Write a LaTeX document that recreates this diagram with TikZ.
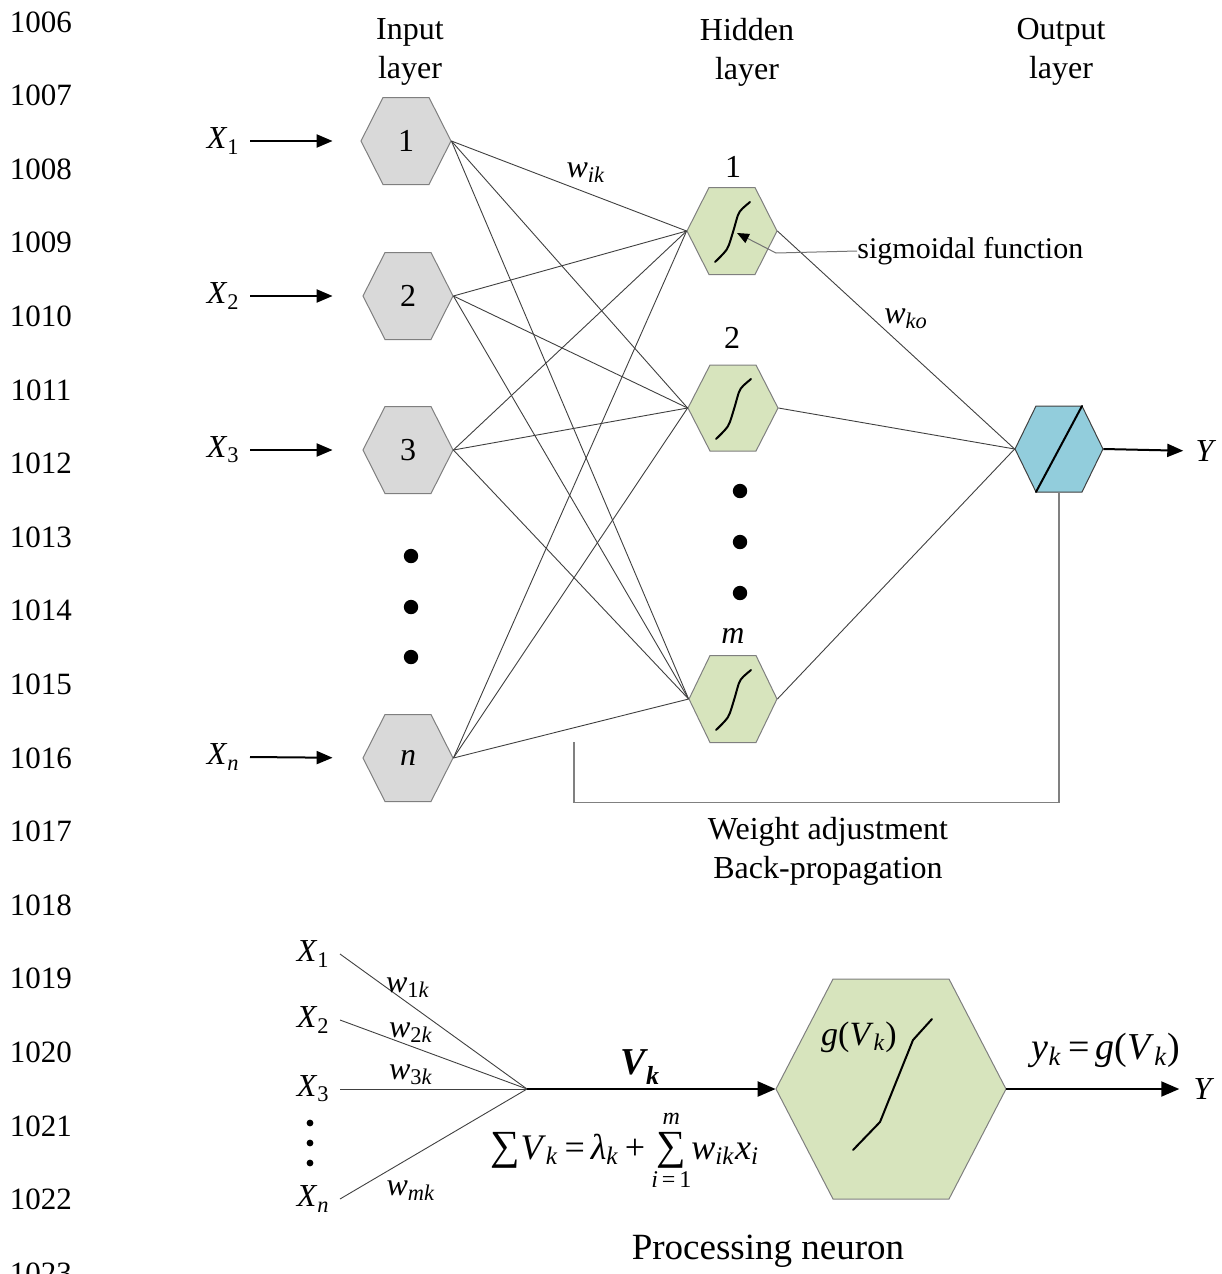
\documentclass[tikz,border=0pt]{standalone}
\usepackage{fontspec}
\setmainfont{Liberation Serif}
\usetikzlibrary{arrows.meta}
\definecolor{ingray}{HTML}{D9D9D9}
\definecolor{hidgreen}{HTML}{D7E4BD}
\definecolor{outblue}{HTML}{92CDDC}
\definecolor{wirecol}{HTML}{404040}
\definecolor{bordergray}{HTML}{7F7F7F}
% name, style, x, y, half-width, half-top-edge, half-height, text
\newcommand\mkhex[8]{%
  \draw[#2] (#3-#5,#4) -- (#3-#6,#4-#7) -- (#3+#6,#4-#7) -- (#3+#5,#4) -- (#3+#6,#4+#7) -- (#3-#6,#4+#7) -- cycle;
  \node[hexanchor, minimum width=#5pt, minimum height=#7pt] (#1) at (#3,#4) {#8};
}
\newcommand\isub[2]{\textit{#1}\textsubscript{#2}}
\tikzset{
  hexanchor/.style={rectangle, inner sep=0pt, font=\fontsize{16}{19}\selectfont},
  inhex/.style={fill=ingray, draw=bordergray, line width=0.5pt},
  hidhex/.style={fill=hidgreen, draw=bordergray, line width=0.5pt},
  outhex/.style={fill=outblue, draw=black!75, line width=0.5pt},
  wire/.style={draw=wirecol, line width=0.45pt},
  inarrow/.style={draw=black, line width=1pt, -{Triangle[length=8pt,width=6.5pt]}},
  bigarrow/.style={draw=black, line width=1.2pt, -{Triangle[length=9pt,width=7.5pt]}},
  sig/.style={draw=black, line width=1pt, line cap=round, line join=round},
  fbline/.style={draw=black!50, line width=0.6pt},
  lbl/.style={inner sep=0pt, font=\fontsize{16}{19.5}\selectfont},
  lnum/.style={inner sep=0pt, font=\fontsize{15.5}{18}\selectfont},
}
\begin{document}
\begin{tikzpicture}[x=0.5pt,y=-0.5pt]
\path[use as bounding box, clip] (0,0) rectangle (1221,1274);

% line numbers
\foreach \i in {0,...,17} {
  \pgfmathtruncatemacro\n{1006+\i}
  \node[lnum] (ln\n) at (41,22+73.6*\i) {\n};
}

% headers
\node[lbl, align=center] (hin)  at (410,52) {Input\\layer};
\node[lbl, align=center] (hhid) at (747,52) {Hidden\\layer};
\node[lbl, align=center] (hout) at (1061,52) {Output\\layer};

% input nodes
\mkhex{in1}{inhex}{406}{141}{45}{23}{43.5}{1}
\mkhex{in2}{inhex}{408}{296}{45}{23}{43.5}{2}
\mkhex{in3}{inhex}{408}{450}{45}{23}{43.5}{3}
\mkhex{inn}{inhex}{408}{758}{45}{23}{43.5}{\textit{n}}

% hidden nodes
\mkhex{h1}{hidhex}{732}{231}{45}{23}{43.5}{}
\mkhex{h2}{hidhex}{733}{408}{45}{23}{43}{}
\mkhex{hm}{hidhex}{733}{699}{44}{23}{43.5}{}

% output node
\mkhex{out}{outhex}{1059}{449}{44}{23}{43}{}

% wires
\foreach \a in {in1,in2,in3,inn}
  \foreach \b in {h1,h2,hm}
    \draw[wire] (\a.east) -- (\b.west);
\foreach \b in {h1,h2,hm}
  \draw[wire] (\b.east) -- (out.west);

% sigmoids
\foreach \h in {h1,h2,hm}
  \draw[sig, shift={(\h)}] plot[smooth, tension=0.5] coordinates {(-17,31) (-5,18) (1,1) (6,-16) (10,-22) (18,-29)};
\draw[sig, shift={(out)}] (-23,43) -- (23,-43);

% dots
\foreach \y in {556,607,657} \fill (411,\y) circle (3.6pt);
\foreach \y in {491,542,593} \fill (740,\y) circle (3.6pt);

% input labels and arrows
\node[lbl, anchor=east, inner xsep=5pt] (X1) at (250,141) {\isub{X}{1}};
\node[lbl, anchor=east, inner xsep=5pt] (X2) at (250,296) {\isub{X}{2}};
\node[lbl, anchor=east, inner xsep=5pt] (X3) at (250,450) {\isub{X}{3}};
\node[lbl, anchor=east, inner xsep=5pt] (Xn) at (250,757) {\isub{X}{\textit{n}}};
\draw[inarrow, shorten >=14pt] (X1.east) -- (in1.west);
\draw[inarrow, shorten >=15pt] (X2.east) -- (in2.west);
\draw[inarrow, shorten >=15pt] (X3.east) -- (in3.west);
\draw[inarrow, shorten >=15pt] (Xn.east) -- (inn.west);

% hidden labels
\node[lbl] (l1) at (733,167) {1};
\node[lbl] (l2) at (732,338) {2};
\node[lbl] (lm) at (733,636) {\textit{m}};

% weights
\node[lbl] (wik) at (586,173) {\isub{w}{\textit{ik}}};
\node[lbl] (wko) at (906,319) {\isub{w}{\textit{ko}}};

% sigmoidal pointer
\node[lbl, anchor=west, font=\fontsize{15}{18}\selectfont] (sigtxt) at (857,251) {sigmoidal function};
\coordinate (sigtip) at (737,233);
\draw[draw=black!55, line width=0.5pt, -{Triangle[length=6pt,width=5pt,color=black]}] (sigtxt.west) -- ++(-81,2) -- (sigtip);

% output arrow
\node[lbl] (Ytop) at (1206,451) {\textit{Y}};
\draw[inarrow, shorten >=6pt] (out.east) -- (Ytop.west);

% feedback
\coordinate (fbend) at (574,742);
\draw[fbline] (out.south) -- ++(0,310) -| (fbend);
\node[lbl, align=center] (fbtxt) at (828,851) {Weight adjustment\\Back-propagation};

% ---------- bottom: processing neuron ----------
\node[lbl, anchor=east, inner xsep=5pt] (bX1) at (340,954) {\isub{X}{1}};
\node[lbl, anchor=east, inner xsep=5pt] (bX2) at (340,1020) {\isub{X}{2}};
\node[lbl, anchor=east, inner xsep=5pt] (bX3) at (340,1089) {\isub{X}{3}};
\node[lbl, anchor=east, inner xsep=5pt] (bXn) at (340,1199) {\isub{X}{\textit{n}}};
\foreach \y in {1123,1143,1163} \fill (310,\y) circle (1.7pt);
\coordinate (junc) at (527,1089);
\foreach \x in {bX1,bX2,bX3,bXn}
  \draw[wire] (\x.east) -- (junc);

\node[lbl] (w1k) at (408,988) {\isub{w}{1\textit{k}}};
\node[lbl] (w2k) at (411,1033) {\isub{w}{2\textit{k}}};
\node[lbl] (w3k) at (411,1075) {\isub{w}{3\textit{k}}};
\node[lbl] (wmk) at (411,1191) {\isub{w}{\textit{mk}}};

\mkhex{neuron}{hidhex}{891}{1089}{115}{58}{110}{}
\draw[sig, shift={(neuron)}] (-38,61) -- (-11,33) -- (22,-49) -- (41,-70);
\node[lbl, font=\fontsize{17}{20}\selectfont] (gv) at (859,1037) {\textit{g}(\isub{V}{\textit{k}})};

\draw[bigarrow] (junc) -- (neuron.west);
\node[lbl, font=\fontsize{19}{20}\selectfont\bfseries\itshape] (vk) at (640,1067) {V\raisebox{-0.6ex}{\fontsize{13}{14}\selectfont k}};

\node[lbl, font=\fontsize{18}{22}\selectfont] (eq) at (625,1150) {\scalebox{1.15}{∑}\isub{V}{\textit{k}}\,=\,\isub{λ}{\textit{k}}\,+\,$\mathop{\hbox{\scalebox{1.15}{∑}}}\limits^{\raisebox{2pt}{\fontsize{12}{12}\selectfont\textit{m}}}_{\raisebox{-2pt}{\fontsize{12}{12}\selectfont\textit{i}\,=\,1}}$\isub{w}{\textit{ik}}\isub{x}{\textit{i}}};

\node[lbl] (Ybot) at (1204,1089) {\textit{Y}};
\draw[bigarrow, line width=1pt, shorten >=7pt] (neuron.east) -- (Ybot.west);
\node[lbl, font=\fontsize{19}{22}\selectfont] (yk) at (1106,1050) {\isub{y}{\textit{k}}\,=\,\textit{g}(\isub{V}{\textit{k}})};

\node[lbl, font=\fontsize{18.5}{22}\selectfont] (pn) at (768,1251) {Processing neuron};
\end{tikzpicture}
\end{document}
